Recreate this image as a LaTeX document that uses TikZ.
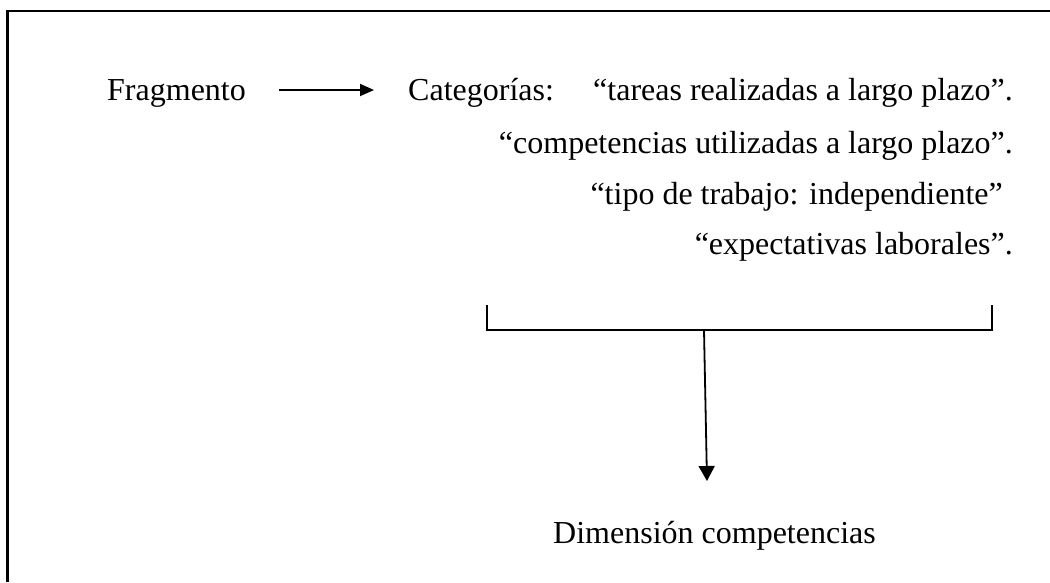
\documentclass[tikz,border=0pt]{standalone}
\usepackage{fontspec}
\setmainfont{Liberation Serif}
\usetikzlibrary{arrows.meta}
\begin{document}
\begin{tikzpicture}[x=1pt,y=-1pt,
  txt/.style={inner sep=0pt,font=\fontsize{32}{38}\selectfont},
  frame/.style={line width=2.2pt},
  conn/.style={line width=1.8pt},
  arr/.style={conn,-{Triangle[length=14pt,width=12pt]}},
  arrbig/.style={conn,-{Triangle[length=15pt,width=16pt]}}]
\useasboundingbox (0,0) rectangle (1050,582);
\draw[frame] (1050,11) -- (7.5,11) -- (7.5,582);
\node[txt,anchor=base west] (frag) at (107,100) {Fragmento};
\node[txt,anchor=base west] (cat) at (408,100) {Categorías:};
\node[txt,anchor=base east] (l1) at (1013,100) {“tareas realizadas a largo plazo”.};
\node[txt,anchor=base east] (l2) at (1013,153) {“competencias utilizadas a largo plazo”.};
\node[txt,anchor=base east] (l3) at (1003,204) {“tipo de trabajo: independiente”};
\node[txt,anchor=base east] (l4) at (1013,254) {“expectativas laborales”.};
\node[txt,anchor=base west] (dim) at (553,543) {Dimensión competencias};
\coordinate (a1s) at (279,90);
\coordinate (a1e) at (374,90);
\draw[arr] (a1s) -- (a1e);
\coordinate (bl) at (487,305);
\coordinate (br) at (992,305);
\draw[conn] (bl) -- (487,330) -- (992,330) -- (br);
\coordinate (a2s) at (704,330);
\coordinate (a2e) at (707,481);
\draw[arrbig] (a2s) -- (a2e);
\end{tikzpicture}
\end{document}
